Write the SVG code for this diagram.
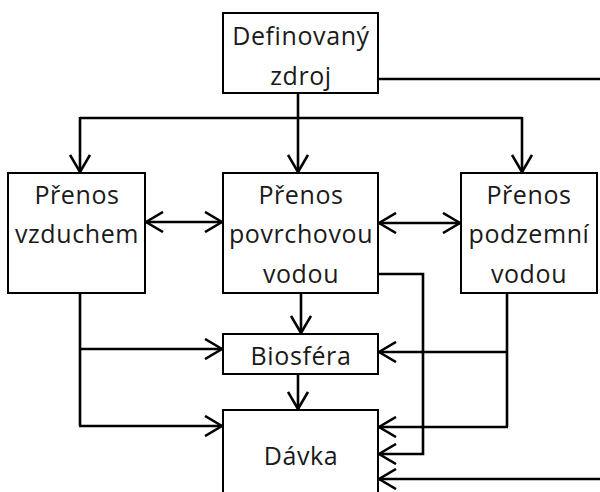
<svg xmlns="http://www.w3.org/2000/svg" width="600" height="492" viewBox="0 0 600 492">
  <style>
    .box { fill: #ffffff; stroke: #000000; stroke-width: 2; }
    .lbl { font-family: "Open Sans", "Liberation Sans", sans-serif; font-size: 25px; letter-spacing: 0.6px; fill: #1a1a1a; text-anchor: middle; }
    .wire { fill: none; stroke: #000000; stroke-width: 2.6; }
    .arr { marker-end: url(#head); }
    .both { marker-start: url(#head); marker-end: url(#head); }
  </style>
  <defs>
    <marker id="head" viewBox="0 0 20 22" markerUnits="userSpaceOnUse" markerWidth="20" markerHeight="22" refX="18" refY="11" orient="auto-start-reverse">
      <path d="M1,1 L18,11 L1,21" fill="none" stroke="#000000" stroke-width="2.6"/>
    </marker>
  </defs>
  <rect width="600" height="492" fill="#ffffff"/>

  <!-- connectors -->
  <g id="connectors">
    <!-- source to the right edge and back into the dose box -->
    <path class="wire" d="M378,79 H610"/>
    <path class="wire arr" d="M610,479 H379"/>
    <!-- source down to the three transport paths -->
    <path class="wire arr" d="M298,93 V172"/>
    <path class="wire" d="M80,118 H522"/>
    <path class="wire arr" d="M80,117 V172"/>
    <path class="wire arr" d="M522,117 V172"/>
    <!-- exchange between transport paths -->
    <path class="wire both" d="M146,222 H222"/>
    <path class="wire both" d="M379,223 H460"/>
    <!-- surface water to biosphere, biosphere to dose -->
    <path class="wire arr" d="M301,293 V333"/>
    <path class="wire arr" d="M298,374 V409"/>
    <!-- air transport branches -->
    <path class="wire" d="M80,293 V426"/>
    <path class="wire arr" d="M79,349 H222"/>
    <path class="wire arr" d="M79,426 H222"/>
    <!-- surface water bypass to dose -->
    <path class="wire arr" d="M378,274 H423 V454 H379"/>
    <!-- groundwater branches -->
    <path class="wire" d="M507,293 V427"/>
    <path class="wire arr" d="M508,352 H379"/>
    <path class="wire arr" d="M508,427 H379"/>
  </g>

  <g id="zdroj">
    <rect class="box" x="223" y="13" width="155" height="80"/>
    <text class="lbl" x="301" y="45">Definovaný</text>
    <text class="lbl" x="301" y="85">zdroj</text>
  </g>
  <g id="vzduch">
    <rect class="box" x="8" y="173" width="137" height="120"/>
    <text class="lbl" x="77" y="204">Přenos</text>
    <text class="lbl" x="77" y="243">vzduchem</text>
  </g>
  <g id="povrch">
    <rect class="box" x="223" y="173" width="155" height="120"/>
    <text class="lbl" x="301" y="204">Přenos</text>
    <text class="lbl" x="301" y="243">povrchovou</text>
    <text class="lbl" x="301" y="283">vodou</text>
  </g>
  <g id="podzem">
    <rect class="box" x="461" y="173" width="136" height="120"/>
    <text class="lbl" x="529" y="204">Přenos</text>
    <text class="lbl" x="529" y="243">podzemní</text>
    <text class="lbl" x="529" y="283">vodou</text>
  </g>
  <g id="biosfera">
    <rect class="box" x="223" y="334" width="155" height="40"/>
    <text class="lbl" x="301" y="365">Biosféra</text>
  </g>
  <g id="davka">
    <rect class="box" x="223" y="410" width="155" height="100"/>
    <text class="lbl" x="301" y="465">Dávka</text>
  </g>
</svg>
